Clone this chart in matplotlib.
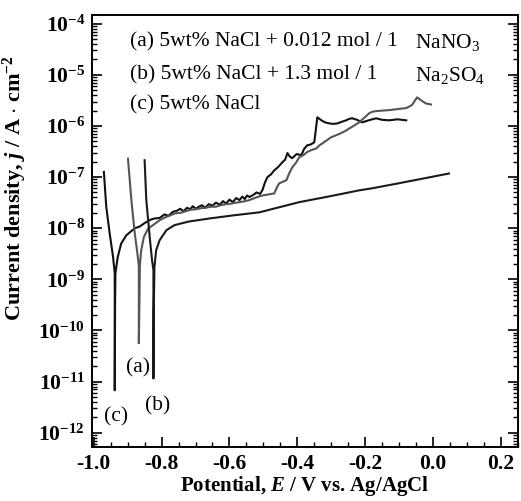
import numpy as np
import matplotlib
matplotlib.use("Agg")
import matplotlib.pyplot as plt
from matplotlib.ticker import FixedLocator, FuncFormatter, LogLocator, NullFormatter

plt.rcParams["font.family"] = "Liberation Serif"
plt.rcParams["mathtext.fontset"] = "custom"
plt.rcParams["mathtext.rm"] = "Liberation Serif"
plt.rcParams["mathtext.it"] = "Liberation Serif:bold:italic"
plt.rcParams["mathtext.bf"] = "Liberation Serif:bold"
plt.rcParams["axes.unicode_minus"] = False

# (c) 5wt% NaCl: potential (V) and log10 current density
e_c = [-0.970, -0.963, -0.953, -0.943, -0.938, -0.938, -0.937, -0.936, -0.929, -0.919,
       -0.904, -0.879, -0.865, -0.850, -0.835, -0.821, -0.806, -0.791, -0.780, -0.767,
       -0.755, -0.745, -0.735, -0.725, -0.716, -0.708, -0.699, -0.690, -0.681, -0.672,
       -0.661, -0.650, -0.640, -0.628, -0.619, -0.610, -0.600, -0.590, -0.580, -0.570,
       -0.562, -0.555, -0.548, -0.541, -0.530, -0.520, -0.510, -0.503, -0.495, -0.488,
       -0.478, -0.468, -0.456, -0.444, -0.436, -0.429, -0.422, -0.415, -0.402, -0.388,
       -0.380, -0.371, -0.360, -0.350, -0.345, -0.341, -0.335, -0.329, -0.318, -0.306,
       -0.294, -0.282, -0.270, -0.256, -0.247, -0.238, -0.224, -0.209, -0.190, -0.168,
       -0.150, -0.129, -0.105, -0.079]
logj_c = [-6.90, -7.58, -8.10, -8.56, -8.88, -11.17, -9.50, -8.88, -8.56, -8.30,
          -8.14, -8.00, -7.97, -7.90, -7.84, -7.81, -7.80, -7.73, -7.76, -7.68,
          -7.66, -7.62, -7.67, -7.60, -7.63, -7.57, -7.62, -7.58, -7.55, -7.60,
          -7.53, -7.56, -7.50, -7.54, -7.47, -7.52, -7.44, -7.49, -7.41, -7.45,
          -7.38, -7.43, -7.36, -7.39, -7.35, -7.30, -7.33, -7.26, -7.10, -7.00,
          -6.95, -6.87, -6.80, -6.71, -6.66, -6.53, -6.60, -6.63, -6.55, -6.57,
          -6.45, -6.38, -6.36, -6.32, -6.05, -5.83, -5.86, -5.89, -5.93, -5.95,
          -5.96, -5.95, -5.92, -5.89, -5.86, -5.85, -5.88, -5.93, -5.89, -5.85,
          -5.88, -5.89, -5.87, -5.89]

# (a) 5wt% NaCl + 0.012 mol/l NaNO3
e_a = [-0.899, -0.889, -0.879, -0.870, -0.867, -0.867, -0.865, -0.864, -0.860, -0.852,
       -0.840, -0.821, -0.805, -0.790, -0.775, -0.760, -0.745, -0.730, -0.715, -0.700,
       -0.685, -0.670, -0.655, -0.640, -0.625, -0.610, -0.595, -0.580, -0.560, -0.541,
       -0.522, -0.503, -0.485, -0.468, -0.460, -0.453, -0.442, -0.432, -0.424, -0.415,
       -0.404, -0.394, -0.382, -0.371, -0.358, -0.344, -0.335, -0.326, -0.313, -0.300,
       -0.285, -0.271, -0.259, -0.247, -0.232, -0.218, -0.203, -0.188, -0.178, -0.168,
       -0.150, -0.129, -0.105, -0.079, -0.070, -0.062, -0.047, -0.035, -0.021, -0.006]
logj_a = [-6.64, -7.45, -8.10, -8.56, -8.73, -10.25, -9.30, -8.73, -8.43, -8.17,
          -8.01, -7.92, -7.84, -7.79, -7.75, -7.71, -7.70, -7.67, -7.64, -7.63,
          -7.61, -7.60, -7.58, -7.58, -7.55, -7.53, -7.52, -7.50, -7.48, -7.45,
          -7.40, -7.36, -7.34, -7.32, -7.20, -7.12, -7.09, -7.06, -6.93, -6.81,
          -6.72, -6.61, -6.57, -6.51, -6.47, -6.44, -6.38, -6.34, -6.28, -6.22,
          -6.18, -6.14, -6.10, -6.05, -5.99, -5.93, -5.84, -5.75, -5.72, -5.71,
          -5.70, -5.69, -5.67, -5.65, -5.62, -5.59, -5.44, -5.50, -5.56, -5.58]

# (b) 5wt% NaCl + 1.3 mol/l Na2SO4
e_b = [-0.850, -0.845, -0.835, -0.828, -0.824, -0.824, -0.823, -0.821, -0.816, -0.806,
       -0.786, -0.762, -0.720, -0.659, -0.590, -0.512, -0.394, -0.300, -0.218, -0.180,
       -0.100, 0.047]
logj_b = [-6.67, -7.45, -8.17, -8.63, -8.82, -10.94, -9.60, -8.76, -8.43, -8.24,
          -8.04, -7.94, -7.87, -7.81, -7.75, -7.69, -7.49, -7.37, -7.26, -7.22,
          -7.12, -6.93]

legend_left = ["(a) 5wt% NaCl + 0.012 mol / 1", "(b) 5wt% NaCl + 1.3 mol / 1", "(c) 5wt% NaCl"]
legend_chem = ["NaNO$_3$", "Na$_2$SO$_4$", ""]
x_ticks = [-1.0, -0.8, -0.6, -0.4, -0.2, 0.0, 0.2]
y_decades = list(range(-12, -3))

fig = plt.figure(figsize=(5.21, 5.01), dpi=100)
ax = fig.add_axes([0.1766, 0.1078, 0.8174, 0.8622])

ax.plot(e_c, 10.0 ** np.array(logj_c), color="#111111", lw=1.5)
ax.plot(e_a, 10.0 ** np.array(logj_a), color="#555555", lw=1.5)
ax.plot(e_b, 10.0 ** np.array(logj_b), color="#1a1a1a", lw=1.5)

ax.set_yscale("log")
ax.set_xlim(-1.005, 0.25)
ax.set_ylim(10 ** -12.28, 10 ** -3.83)

ax.xaxis.set_major_locator(FixedLocator(x_ticks))
ax.xaxis.set_minor_locator(FixedLocator(np.arange(-1.0, 0.26, 0.05)))
ax.xaxis.set_major_formatter(FuncFormatter(lambda v, p: "%.1f" % v))
ax.yaxis.set_major_locator(FixedLocator([10.0 ** d for d in y_decades]))
ax.yaxis.set_minor_locator(LogLocator(base=10, subs=np.arange(2, 10), numticks=20))
ax.yaxis.set_minor_formatter(NullFormatter())
ax.yaxis.set_major_formatter(
    FuncFormatter(lambda v, p: r"$\mathbf{10^{%d}}$" % round(np.log10(v))))

ax.tick_params(which="both", direction="in", left=True, right=True, top=False, bottom=True)
ax.tick_params(which="major", length=7, width=1.2, labelsize=15.5, pad=5)
ax.tick_params(which="minor", length=3.5, width=1.0)
for lab in ax.get_xticklabels():
    lab.set_fontweight("bold")
for sp in ax.spines.values():
    sp.set_linewidth(1.4)

ax.set_xlabel(r"Potential, $E$ / V vs. Ag/AgCl", fontsize=15,
              fontweight="bold", labelpad=0)
ax.set_ylabel(r"Current density, $j$ / A $\cdot$ cm$^{\mathbf{-2}}$",
              fontsize=16, fontweight="bold")
ax.yaxis.set_label_coords(-0.148, 0.60)

for i, (t1, t2) in enumerate(zip(legend_left, legend_chem)):
    yy = [0.9375, 0.861, 0.792][i]
    ax.text(0.089, yy, t1, transform=ax.transAxes, fontsize=15.5, va="center")
    if t2:
        ax.text(0.758, yy, t2, transform=ax.transAxes, fontsize=15.5, va="center")

ax.text(-0.935, 10 ** -11.70, "(c)", fontsize=15.5, ha="center", va="center")
ax.text(-0.870, 10 ** -10.74, "(a)", fontsize=15.5, ha="center", va="center")
ax.text(-0.812, 10 ** -11.47, "(b)", fontsize=15.5, ha="center", va="center")

fig.savefig("out.png", dpi=100)
